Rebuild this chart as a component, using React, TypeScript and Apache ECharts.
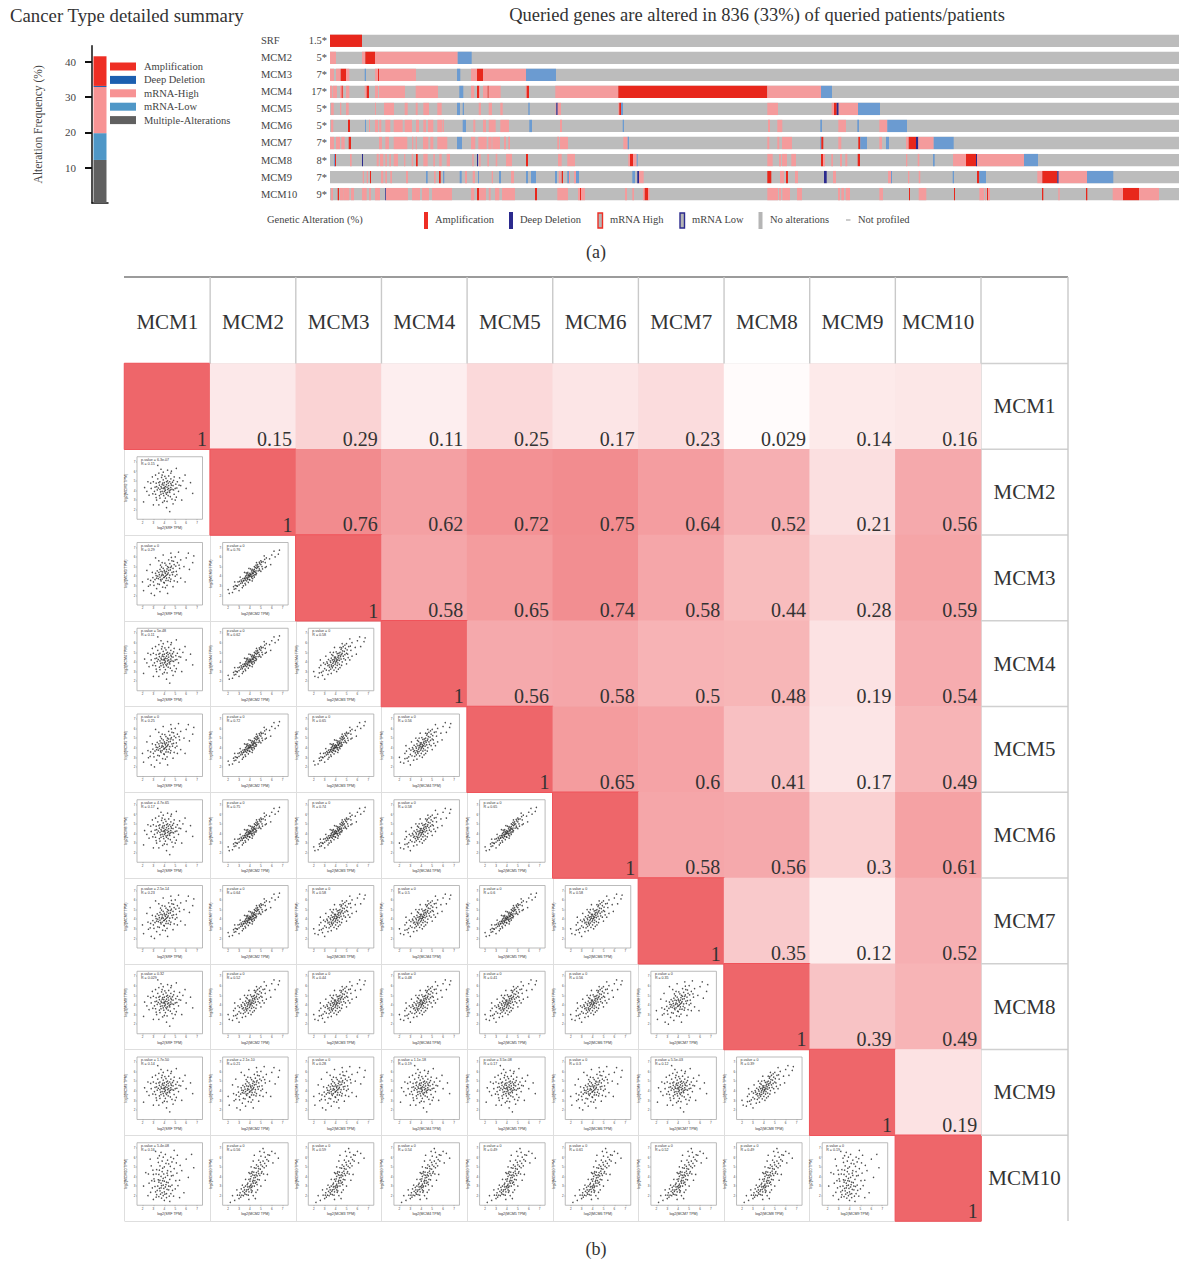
import React, { useEffect, useRef } from "react";
import * as echarts from "echarts";

const SERIF = '"Liberation Serif"';
const SANS = '"Liberation Sans"';

// ---------- stacked bar ----------
const barMultiple = [12.2];
const barLow = [7.6];
const barHigh = [13.1];
const barDeep = [0.3];
const barAmp = [8.4];
const barLegendNames = ["Amplification", "Deep Deletion", "mRNA-High", "mRNA-Low", "Multiple-Alterations"];
const barTicks = [10, 20, 30, 40];

// ---------- oncoprint (columns along the patient track) ----------
const trackGenes = ["SRF", "MCM2", "MCM3", "MCM4", "MCM5", "MCM6", "MCM7", "MCM8", "MCM9", "MCM10"];
const trackPercent = ["1.5*", "5*", "7*", "17*", "5*", "5*", "7*", "8*", "7*", "9*"];
const TRACK_COLUMNS = 849;
const A = 1, H = 2, L = 3, D = 4;
const srfSegs = [[0, 32, A]];
const mcm2Segs = [[0, 6, H], [32, 35.3, H], [35.3, 45, A], [45, 127.7, H], [127.7, 141.7, L]];
const mcm3Segs = [[0, 4, H], [6, 10.7, H], [10.7, 16, A], [16, 19.3, H], [34.7, 36, L], [45, 48, H], [48, 49, A], [49, 86, H], [127, 130.3, L], [141, 147, H], [147, 153, A], [153, 196, H], [196, 226, L]];
const mcm4Segs = [[0, 2, H], [2.7, 7, H], [10, 13.3, H], [11.7, 12.7, A], [16, 19.3, H], [34.7, 36.7, H], [36.7, 39, A], [45, 48, H], [49, 75, H], [85.7, 108, H], [129.3, 133.3, L], [141, 144.3, H], [147, 149, A], [149, 150, H], [153, 157.7, H], [157.7, 158.7, A], [158.7, 170.7, H], [195.7, 196.7, H], [196.7, 199, A], [225.3, 288.3, H], [288.3, 437.3, A], [437.3, 491, H], [491, 502, L]];
const mcm5Segs = [[1, 3.7, H], [10, 11.3, H], [16, 18.7, H], [45, 46, H], [54, 64, H], [74.7, 77.7, H], [85.7, 87.7, H], [93.3, 99, H], [107.3, 111.7, H], [127, 130, L], [132.7, 134, L], [148.7, 151, H], [158.7, 162, H], [170.3, 172.7, H], [198.3, 199.7, L], [225.5, 226.3, H], [226.3, 227.7, D], [227.7, 231, H], [288.3, 289.3, H], [289.3, 291, A], [291, 293, L], [437.3, 448, H], [501.7, 504, H], [504, 506.7, A], [506.7, 508.7, D], [508.7, 528, H], [528, 550, L]];
const mcm6Segs = [[1, 3.3, H], [18, 20, A], [35, 36, L], [39, 40, H], [45, 48, H], [49.3, 51.3, H], [55.3, 60.3, H], [63.7, 72.7, H], [74.7, 82, H], [86, 89, H], [93.3, 96, H], [98, 103.3, H], [107.3, 112, H], [112.5, 114, H], [132.7, 136, L], [143.3, 145.3, H], [153, 156, H], [158.7, 165.7, H], [170.3, 179, H], [199.3, 202, L], [230, 232, H], [292.7, 294, L], [438, 440, H], [447.3, 452.3, H], [490.3, 492, L], [508.3, 516, H], [527.3, 529, L], [549.3, 557.3, H], [557.3, 577, L]];
const mcm7Segs = [[0, 4, H], [6, 10, H], [11.3, 14.7, H], [18.7, 21, A], [49, 52, H], [55.3, 59, H], [63.7, 77.3, H], [82, 83.3, H], [85.7, 87, H], [93, 98.3, H], [100.3, 103.3, H], [107.3, 117.3, H], [127, 132, L], [141, 145.3, H], [148.3, 156.7, H], [158.3, 161.7, H], [162.3, 170, H], [174, 176, H], [178.3, 180, H], [227.3, 229, H], [230, 238, H], [293.3, 297.7, H], [297.7, 299, L], [437.3, 439.3, H], [447.3, 449.3, H], [452, 462, H], [490.3, 491.3, L], [491.3, 493.3, A], [508.3, 511.3, H], [528.3, 530.3, A], [530.3, 537, L], [549.3, 552, H], [556, 559, L], [576, 578.7, H], [578.7, 586, A], [586, 588.3, D], [588.3, 603.7, H], [603.7, 623.7, L]];
const mcm8Segs = [[4, 5, L], [5, 6, A], [20, 21.7, H], [32, 33, D], [46.7, 48.7, H], [50, 53.3, H], [55.3, 57, H], [59.3, 61, H], [63.7, 68, H], [74, 75.3, H], [81.7, 83.3, H], [86, 87.7, A], [93.3, 97.7, H], [103.3, 105, H], [109.3, 111.7, H], [116.7, 120, H], [142.3, 143.7, H], [147, 148, D], [149, 150.7, H], [157.3, 159, H], [165.7, 167.3, H], [176, 182, H], [196, 198, A], [228, 231.7, H], [237.3, 245, H], [298.3, 300, H], [300, 303, A], [303, 306.7, H], [306.7, 307.7, L], [437.3, 442.7, H], [449, 451, H], [452, 457, H], [461.3, 466, H], [491, 493, A], [493, 495, H], [501.3, 503, H], [510, 512, H], [515.3, 517.3, H], [527.7, 530, A], [576, 577.3, H], [587.7, 589.3, H], [603, 604.7, L], [623, 636, H], [636, 646, A], [646, 647, D], [647, 694, H], [694, 708, L]];
const mcm9Segs = [[32.7, 34, H], [36.7, 38, H], [40, 41, A], [51, 53.3, H], [55.3, 57, H], [60.3, 62, H], [76, 78, H], [96, 97.7, L], [104, 105.7, H], [109, 110.7, A], [113, 114.3, L], [129.7, 131.7, L], [135, 137, H], [142.7, 145, H], [148, 149, L], [161.7, 163, H], [169, 171, L], [181, 184, H], [196, 198, L], [201, 206, L], [225, 227, L], [228.7, 230.7, H], [231.7, 233, A], [237.3, 239, L], [239, 240, H], [244, 246, H], [246, 249, L], [302.3, 305, L], [307.3, 309, D], [309, 313.7, H], [437.3, 441.3, A], [450, 454, H], [456, 458, A], [465, 468, H], [494, 496.7, D], [503, 506, H], [558, 561, H], [561, 562, L], [578, 579.3, H], [588.7, 590.3, H], [622.7, 624, L], [647, 649.3, A], [649.3, 656, L], [707.3, 712.3, H], [712.3, 727.3, A], [727.3, 728.7, D], [728.7, 757, H], [757, 783.3, L]];
const mcm10Segs = [[1, 3, H], [7.7, 9, A], [10, 13.3, H], [13.3, 19.3, H], [21, 24, H], [32, 36.7, H], [39, 41, H], [45, 50, H], [55.3, 56, D], [56, 72, H], [72, 78, H], [82, 90, H], [92, 99, H], [102, 122, H], [141, 144.3, H], [147, 149, A], [149, 156, H], [158.7, 160.7, H], [165, 169.3, H], [172, 185, H], [205, 207, A], [227.3, 238, H], [248, 250, H], [250, 251, A], [251, 255, H], [295, 297, H], [302.3, 304, H], [313, 314.7, H], [314.7, 318, A], [318, 319.5, H], [437.3, 448, H], [449, 451, H], [452.3, 460, H], [467, 472, H], [508, 510, H], [511.3, 514, H], [515.7, 520, H], [549.3, 553, H], [579, 580, A], [588.7, 596.3, H], [624, 625, A], [649.3, 654, H], [655, 656, H], [657, 658, A], [658, 660, H], [712, 713.3, A], [728.3, 729.7, H], [756, 757.3, A], [782.7, 793, H], [793, 809, A], [809, 829, H]];
const trackSegments = [srfSegs, mcm2Segs, mcm3Segs, mcm4Segs, mcm5Segs, mcm6Segs, mcm7Segs, mcm8Segs, mcm9Segs, mcm10Segs];
const trackColors = ["#bcbcbc", "#e8271c", "#f49b9c", "#6b9bd1", "#2b2a8e"];

// ---------- correlation matrix ----------
const matrixGenes = ["MCM1", "MCM2", "MCM3", "MCM4", "MCM5", "MCM6", "MCM7", "MCM8", "MCM9", "MCM10"];
const scatterXNames = ["SRF", "MCM2", "MCM3", "MCM4", "MCM5", "MCM6", "MCM7", "MCM8", "MCM9"];
const corrRow1 = [1, 0.15, 0.29, 0.11, 0.25, 0.17, 0.23, 0.029, 0.14, 0.16];
const corrRow2 = [1, 0.76, 0.62, 0.72, 0.75, 0.64, 0.52, 0.21, 0.56];
const corrRow3 = [1, 0.58, 0.65, 0.74, 0.58, 0.44, 0.28, 0.59];
const corrRow4 = [1, 0.56, 0.58, 0.5, 0.48, 0.19, 0.54];
const corrRow5 = [1, 0.65, 0.6, 0.41, 0.17, 0.49];
const corrRow6 = [1, 0.58, 0.56, 0.3, 0.61];
const corrRow7 = [1, 0.35, 0.12, 0.52];
const corrRow8 = [1, 0.39, 0.49];
const corrRow9 = [1, 0.19];
const corrRow10 = [1];
const corrRows = [corrRow1, corrRow2, corrRow3, corrRow4, corrRow5, corrRow6, corrRow7, corrRow8, corrRow9, corrRow10];

const pValuesFirstColumn = ["6.3e-07", "0", "5e-48", "0", "4.7e-65", "2.5e-14", "0.32", "1.7e-50", "5.4e-08"];
const pValuesMcm9Row = ["1.7e-50", "2.1e-10", "0", "1.1e-18", "3.5e-08", "0", "5.5e-03", "0"];
const panelTicks = [2, 3, 4, 5, 6, 7];

// hand-estimated dot clouds (log2 TPM), one per visual shape of the panels
const cloudWeak = [[4.1,4.4],[3.8,4.6],[4.4,4.2],[4.0,3.9],[3.6,4.1],[4.6,4.7],[4.3,5.0],[3.9,5.1],[4.7,4.1],[3.5,4.8],[4.2,3.6],[4.8,4.5],[3.3,4.4],[4.5,3.8],[3.7,3.6],[4.0,4.8],[4.2,4.6],[3.9,4.2],[4.3,4.1],[3.8,3.9],[4.1,4.0],[4.0,4.3],[3.7,4.4],[4.4,4.5],[4.5,4.9],[3.6,4.9],[4.2,4.9],[3.9,3.7],[4.3,3.8],[4.6,4.3],[4.6,5.2],[3.4,5.2],[5.0,4.2],[3.1,3.9],[4.1,3.2],[4.9,3.6],[3.6,3.2],[4.4,5.5],[3.8,5.6],[5.2,4.9],[3.0,4.9],[5.3,3.9],[2.8,4.2],[4.0,2.9],[4.7,3.1],[3.3,3.0],[4.9,5.4],[3.2,5.6],[5.5,4.5],[2.6,3.5],[5.7,5.0],[2.5,4.9],[4.3,6.1],[3.7,6.2],[4.8,2.6],[3.5,2.5],[6.0,4.2],[2.2,4.3],[5.9,5.6],[6.4,4.8],[2.1,2.8],[4.2,2.2],[3.4,6.6],[5.1,6.3],[3.2,3.6],[5.1,3.3],[3.9,5.9],[4.6,5.8],[5.4,5.3],[2.9,5.4],[6.6,3.7],[3.0,2.5],[5.6,3.0],[4.5,1.8],
  [4.05,4.15],[3.95,4.55],[4.25,4.35],[3.75,4.25],[4.35,4.75],[3.55,4.55],[4.55,4.05],[3.85,4.75],[4.15,3.75],[3.65,3.85],[4.45,3.95],[3.45,4.25],[4.15,5.25],[3.95,3.45],[4.65,4.55],[3.25,4.75],[4.75,4.85],[4.35,3.45],[3.75,5.35],[3.55,3.45],[4.85,4.05],[4.05,5.45],[3.35,4.05],[5.05,4.65],[4.55,3.35],[3.15,4.35],[4.85,5.05],[3.25,3.25],[5.15,4.25],[4.25,2.85],[3.85,2.75],[2.95,3.65],[5.35,4.55],[2.75,4.75],[4.65,6.0],[3.5,5.8],[5.0,3.0],[2.4,3.9]];
const cloudMid = [[4.1,4.3],[3.8,4.2],[4.4,4.6],[4.0,3.9],[3.6,3.9],[4.6,4.9],[4.3,5.0],[3.9,4.8],[4.7,4.4],[3.5,4.4],[4.2,3.8],[4.8,4.8],[3.3,3.8],[4.5,4.1],[3.7,3.5],[4.0,4.6],[4.2,4.5],[3.9,4.1],[4.3,4.2],[3.8,3.7],[4.1,4.0],[4.5,5.3],[3.6,4.7],[4.9,5.2],[3.2,4.3],[5.1,4.5],[4.0,3.3],[4.6,3.7],[3.4,3.2],[5.2,5.4],[3.0,3.4],[4.4,5.7],[3.8,5.4],[5.4,4.8],[2.9,4.4],[5.5,5.7],[2.7,3.1],[4.1,2.8],[4.9,3.5],[3.3,2.7],[5.0,6.0],[3.5,5.6],[5.8,5.0],[2.5,3.7],[6.0,5.9],[2.4,4.6],[4.6,6.4],[3.9,6.2],[4.8,2.9],[3.6,2.4],[6.3,4.7],[2.1,2.5],[6.2,6.4],[6.6,5.4],[2.0,3.4],[4.3,2.2],[3.2,5.9],[5.5,3.8],[3.1,2.0],[5.3,6.5],[2.7,5.2],[5.9,3.4],[4.4,4.9],[3.7,4.5],[4.2,4.1],[4.7,5.6],[3.4,4.0],[5.0,4.0],[2.8,2.2],[6.7,6.1],
  [4.05,4.45],[3.95,3.85],[4.25,4.75],[3.75,4.05],[4.35,4.35],[3.55,4.15],[4.55,4.65],[3.85,4.45],[4.15,3.55],[3.65,3.65],[4.45,3.85],[3.45,3.75],[4.15,5.15],[3.95,3.35],[4.65,5.05],[3.25,4.05],[4.75,4.15],[4.35,3.55],[3.75,4.95],[3.55,3.15],[4.85,4.45],[4.05,5.35],[3.35,4.55],[5.05,5.05],[4.55,3.45],[3.15,3.65],[4.85,5.55],[3.05,3.05],[5.15,4.15],[4.25,3.05],[3.85,2.85],[2.95,3.85],[5.35,5.15],[2.75,3.55],[4.65,5.95],[3.65,5.15],[5.2,3.4],[2.55,2.95]];
const cloudStrong = [[4.1,4.3],[3.8,4.0],[4.4,4.7],[4.0,3.9],[3.6,3.7],[4.6,4.9],[4.3,4.9],[3.9,4.5],[4.7,4.6],[3.5,4.1],[4.2,3.9],[4.8,5.1],[3.3,3.6],[4.5,4.3],[3.7,3.4],[4.0,4.5],[4.2,4.5],[3.9,4.1],[4.3,4.4],[3.8,3.6],[4.1,4.1],[4.5,5.3],[3.6,4.4],[4.9,5.4],[3.2,4.0],[5.1,4.8],[4.0,3.4],[4.6,4.0],[3.4,3.1],[5.2,5.6],[3.0,3.3],[4.4,5.5],[3.8,5.0],[5.4,5.2],[2.9,3.9],[5.5,6.0],[2.7,2.9],[4.1,3.0],[4.9,4.2],[3.3,2.7],[5.0,5.9],[3.5,5.0],[5.8,5.5],[2.5,3.4],[6.0,6.2],[2.4,2.4],[4.6,5.9],[3.9,5.5],[5.0,3.8],[3.6,2.8],[6.3,5.6],[2.1,2.5],[6.2,6.6],[6.6,6.1],[2.0,3.0],[4.4,3.4],[3.1,4.6],[5.5,4.6],[3.0,2.2],[5.3,6.4],[2.6,4.2],[5.9,4.8],[4.4,5.0],[3.7,4.2],[4.2,4.2],[4.7,5.6],[3.4,3.7],[5.0,4.9],[2.8,2.6],[6.7,6.5],
  [4.05,4.05],[3.95,4.35],[4.25,4.65],[3.75,3.85],[4.35,4.15],[3.55,3.95],[4.55,4.75],[3.85,4.25],[4.15,3.65],[3.65,3.55],[4.45,4.55],[3.45,3.45],[4.15,4.85],[3.95,3.75],[4.65,5.15],[3.25,3.85],[4.75,4.35],[4.35,3.75],[3.75,4.65],[3.55,3.25],[4.85,4.75],[4.05,5.05],[3.35,4.25],[5.05,5.25],[4.55,3.65],[3.15,3.15],[4.85,5.75],[3.05,3.75],[5.15,4.45],[4.25,3.25],[3.85,3.15],[2.85,3.05],[5.35,5.65],[2.65,3.65],[4.55,5.45],[3.65,4.75],[5.3,4.2],[2.5,2.85]];
const cloudVery = [[4.1,4.2],[3.8,3.9],[4.4,4.5],[4.0,4.0],[3.6,3.6],[4.6,4.8],[4.3,4.6],[3.9,4.2],[4.7,4.9],[3.5,3.8],[4.2,4.0],[4.8,5.0],[3.3,3.3],[4.5,4.4],[3.7,3.5],[4.0,4.3],[4.2,4.4],[3.9,3.9],[4.3,4.3],[3.8,3.7],[4.1,4.0],[4.5,4.9],[3.6,4.0],[4.9,5.3],[3.2,3.6],[5.1,5.0],[4.0,3.6],[4.6,4.3],[3.4,3.0],[5.2,5.5],[3.0,3.1],[4.4,5.0],[3.8,4.4],[5.4,5.4],[2.9,3.4],[5.5,5.9],[2.7,2.7],[4.2,3.5],[4.9,4.6],[3.3,2.8],[5.0,5.6],[3.5,4.4],[5.8,5.8],[2.5,2.9],[6.0,6.2],[2.4,2.3],[4.6,5.4],[3.9,4.8],[5.0,4.5],[3.6,3.1],[6.3,6.0],[2.1,2.2],[6.2,6.6],[6.6,6.3],[2.0,2.6],[4.4,3.9],[3.1,3.9],[5.5,5.0],[3.0,2.5],[5.3,6.1],[2.6,3.4],[5.9,5.2],[4.4,4.7],[3.7,4.1],[4.2,4.7],[4.7,5.2],[3.4,3.5],[5.0,5.2],[2.8,3.0],[6.7,6.7],
  [4.05,4.15],[3.95,4.05],[4.25,4.25],[3.75,3.75],[4.35,4.45],[3.55,3.75],[4.55,4.55],[3.85,4.05],[4.15,3.85],[3.65,3.85],[4.45,4.15],[3.45,3.55],[4.15,4.55],[3.95,3.65],[4.65,5.05],[3.25,3.45],[4.75,4.55],[4.35,4.05],[3.75,4.25],[3.55,3.25],[4.85,4.75],[4.05,4.75],[3.35,3.75],[5.05,5.45],[4.55,4.15],[3.15,3.25],[4.85,5.45],[3.05,3.45],[5.15,4.75],[4.25,3.75],[3.85,3.35],[2.85,2.95],[5.35,5.75],[2.65,3.05],[4.55,5.15],[3.65,4.35],[5.4,4.9],[2.55,2.65]];
const cloudTall = [[3.9,3.1],[4.2,3.4],[3.7,2.8],[4.4,2.6],[4.0,2.4],[3.6,3.6],[4.1,3.9],[3.5,4.2],[4.5,3.7],[3.8,4.5],[4.3,4.6],[3.4,3.0],[4.7,3.1],[3.2,2.4],[4.6,2.2],[3.9,2.0],[4.2,1.8],[3.5,1.9],[4.8,4.1],[3.1,3.5],[4.0,5.0],[3.6,5.1],[4.4,5.3],[3.3,4.7],[4.9,4.8],[3.0,4.2],[5.0,2.7],[2.9,2.8],[3.8,5.6],[4.3,5.7],[4.6,6.0],[3.4,5.9],[5.1,5.4],[2.8,5.1],[5.4,3.6],[2.6,3.3],[4.1,6.3],[3.7,6.5],[5.2,6.2],[2.5,2.0],[5.6,4.6],[5.8,2.3],[2.3,4.4],[6.0,5.8],[6.2,3.9],[4.9,6.7],[3.2,6.6],[2.1,3.0],[5.4,1.8],[3.0,1.6],[4.0,1.5],[4.5,1.4],[3.7,3.3],[4.1,2.9],[3.9,3.8],[4.2,2.2],[3.6,2.5],[4.4,3.0],[3.8,2.3],[4.0,3.5],[4.3,4.1],[3.5,3.4],[3.7,4.0],[4.6,4.5],[3.3,2.1],[6.5,6.3],[6.7,4.9],[4.7,5.5],[3.9,6.0],[2.7,5.8],
  [3.95,2.75],[4.15,3.15],[3.75,3.05],[4.35,3.35],[3.55,2.75],[4.05,2.15],[3.85,3.55],[4.25,2.65],[3.45,3.65],[4.55,2.95],[3.65,2.15],[4.45,1.95],[3.35,2.55],[4.75,2.55],[3.15,2.95],[3.95,4.25],[4.25,4.35],[3.55,4.65],[4.65,4.05],[3.25,4.25],[3.85,4.85],[4.15,5.35],[3.45,5.45],[4.55,5.05],[3.05,3.75],[5.05,3.55],[5.15,4.35],[2.85,3.55],[3.75,1.75],[4.85,1.95],[2.75,2.35],[3.25,1.85],[5.25,3.05],[2.95,4.65],[4.85,5.85],[3.55,6.15],[5.45,5.15],[2.55,4.25]];
const cloudCone = [[3.0,1.7],[3.4,2.0],[3.1,2.3],[3.7,2.1],[3.5,2.6],[3.9,2.4],[3.6,3.0],[4.0,2.8],[4.2,2.5],[3.8,3.3],[4.1,3.2],[4.4,3.0],[3.9,3.7],[4.3,3.6],[4.5,3.3],[4.1,4.0],[4.4,4.1],[4.7,3.7],[4.2,4.5],[4.6,4.4],[4.9,4.1],[4.4,4.9],[4.8,4.8],[5.1,4.5],[4.6,5.2],[5.0,5.2],[5.3,4.9],[4.8,5.7],[5.2,5.6],[5.5,5.1],[5.0,6.1],[5.4,6.0],[5.7,5.6],[5.3,6.5],[5.8,6.2],[6.1,5.4],[4.9,6.6],[6.3,6.4],[6.0,6.6],[6.6,5.9],[2.6,1.5],[2.4,2.0],[2.8,2.6],[3.3,3.1],[3.6,3.7],[3.9,4.4],[4.1,5.0],[4.3,5.6],[4.4,6.2],[5.4,3.6],[5.0,3.0],[4.7,2.6],[4.3,2.0],[3.9,1.6],[4.5,1.7],[5.6,4.2],[3.2,2.7],[3.7,2.6],[4.0,3.5],[4.2,3.0],[4.5,3.9],[4.3,3.3],[3.8,2.9],[4.1,2.6],[4.6,3.4],[4.8,4.3],[3.5,2.3],[4.0,4.3],[2.2,1.3],[5.2,6.9],
  [3.65,2.45],[3.85,2.65],[4.05,3.05],[4.25,3.45],[3.95,2.95],[4.15,2.85],[4.35,3.85],[4.55,4.15],[3.75,3.15],[3.55,2.15],[3.25,2.05],[4.65,4.05],[4.45,3.55],[4.25,4.15],[4.75,4.55],[4.95,4.75],[3.45,2.85],[4.05,3.75],[4.35,4.45],[4.55,4.85],[3.15,1.85],[3.35,2.45],[4.15,2.35],[4.65,3.15],[4.85,3.65],[5.05,4.35],[5.15,5.05],[4.75,5.05],[5.35,5.35],[4.15,4.35],[3.85,2.05],[4.95,5.45],[5.55,5.75],[5.25,4.25],[3.05,2.05],[2.85,2.05],[5.65,6.25],[4.55,2.35]];

function cloudFor(row: number, col: number, r: number) {
  if (row === 9) return col === 0 || col === 8 ? cloudTall : cloudCone;
  if (r < 0.2) return cloudWeak;
  if (r < 0.36) return cloudMid;
  if (r < 0.6) return cloudStrong;
  return cloudVery;
}

function buildOption() {
  const M_LEFT = 124.5, M_TOP = 363.5, CELL_W = 85.65, CELL_H = 85.75, M_RIGHT = 1068, HEAD_TOP = 277;
  const grid: any[] = [
    { left: 92, top: 45.7, width: 16, height: 157.3, outerBoundsMode: "none" },
    { left: 330, top: 32.3, width: TRACK_COLUMNS, height: 170.3, outerBoundsMode: "none" },
    { left: M_LEFT, top: M_TOP, width: CELL_W * 10, height: CELL_H * 10, outerBoundsMode: "none" },
  ];
  const xAxis: any[] = [
    { gridIndex: 0, type: "category", data: ["all"], axisLine: { lineStyle: { color: "#111", width: 1.5 } }, axisTick: { show: false }, axisLabel: { show: false } },
    { gridIndex: 1, type: "value", min: 0, max: TRACK_COLUMNS, show: false },
    {
      gridIndex: 2, type: "category", position: "top", data: matrixGenes,
      axisLine: { show: false }, axisTick: { show: false },
      splitLine: { show: true, interval: 0, lineStyle: { color: "#dedede", width: 1 } },
      axisLabel: { fontFamily: SERIF, fontSize: 21, color: "#333", margin: 41.5, verticalAlign: "middle", interval: 0 },
    },
  ];
  const yAxis: any[] = [
    {
      gridIndex: 0, type: "value", min: 0, max: 44.6,
      axisLine: { show: true, lineStyle: { color: "#111", width: 1.5 } },
      axisTick: { show: true, length: 7, customValues: barTicks, lineStyle: { color: "#111", width: 2 } },
      axisLabel: { customValues: barTicks, margin: 16, fontFamily: SERIF, fontSize: 11, color: "#444" },
      splitLine: { show: false },
      name: "Alteration Frequency (%)", nameLocation: "middle", nameGap: 48,
      nameTextStyle: { fontFamily: SERIF, fontSize: 11.5, color: "#444" },
    },
    {
      gridIndex: 1, type: "category", position: "left", inverse: true, data: trackGenes,
      axisLine: { show: false }, axisTick: { show: false },
      axisLabel: { align: "left", margin: 69, fontFamily: SERIF, fontSize: 10.5, color: "#444", interval: 0 },
    },
    {
      gridIndex: 1, type: "category", position: "left", inverse: true, data: trackPercent,
      axisLine: { show: false }, axisTick: { show: false },
      axisLabel: { align: "right", margin: 3, fontFamily: SERIF, fontSize: 10.5, color: "#444", interval: 0 },
    },
    {
      gridIndex: 2, type: "category", position: "right", inverse: true, data: matrixGenes,
      axisLine: { show: false }, axisTick: { show: false },
      splitLine: { show: true, interval: 0, lineStyle: { color: "#dedede", width: 1 } },
      axisLabel: { fontFamily: SERIF, fontSize: 21, color: "#333", margin: 43.5, align: "center", interval: 0 },
    },
  ];

  const barSeries = (name: string, data: number[], color: string) => ({
    name, type: "bar", stack: "freq", xAxisIndex: 0, yAxisIndex: 0, barWidth: 13, data, itemStyle: { color },
  });
  const trackData: number[][] = [];
  trackGenes.forEach((_, i) => trackData.push([i, 0, TRACK_COLUMNS, 0]));
  trackSegments.forEach((segs, i) => segs.forEach((s) => trackData.push([i, s[0], s[1], s[2]])));

  const heatData: any[] = [];
  corrRows.forEach((vals, row) => {
    vals.forEach((v, k) => {
      const col = row + k;
      const item: any = { value: [col, row, v] };
      if (k === 0) item.itemStyle = { borderColor: "#f0535a", borderWidth: 1 };
      heatData.push(item);
    });
  });

  const series: any[] = [
    barSeries("Multiple-Alterations", barMultiple, "#606060"),
    barSeries("mRNA-Low", barLow, "#4f97c7"),
    barSeries("mRNA-High", barHigh, "#f79394"),
    barSeries("Deep Deletion", barDeep, "#1c5fb0"),
    barSeries("Amplification", barAmp, "#ee2e24"),
    {
      type: "custom", xAxisIndex: 1, yAxisIndex: 1, data: trackData, silent: true,
      encode: { x: [1, 2], y: 0 },
      renderItem: (_: any, api: any) => {
        const s = api.coord([api.value(1), api.value(0)]);
        const e = api.coord([api.value(2), api.value(0)]);
        const h = api.size([0, 1])[1] * 0.72;
        return { type: "rect", shape: { x: s[0], y: s[1] - h / 2, width: e[0] - s[0], height: h }, style: { fill: trackColors[api.value(3)] } };
      },
    },
    {
      type: "heatmap", xAxisIndex: 2, yAxisIndex: 3, data: heatData, silent: true,
      label: {
        show: true, position: "insideBottomRight", distance: 4, offset: [0, 3],
        fontFamily: SERIF, fontSize: 20, color: "#333",
        formatter: (p: any) => String(p.value[2]),
      },
    },
  ];

  const graphic: any[] = [];
  const text = (t: string, x: number, y: number, size: number, fill = "#333", align = "left", family = SERIF) =>
    graphic.push({ type: "text", x, y, z: 50, silent: true, style: { text: t, fontFamily: family, fontSize: size, fill, textAlign: align, textVerticalAlign: "middle" } });
  text("Cancer Type detailed summary", 10, 15, 18.8);
  text("Queried genes are altered in 836 (33%) of queried patients/patients", 757, 15, 18.5, "#333", "center");
  text("(a)", 596, 252, 18, "#333", "center");
  text("(b)", 596, 1249, 18, "#333", "center");
  text("Genetic Alteration (%)", 267, 219.5, 10.5, "#444");
  const lg = (x: number, w: number, fill: string, stroke?: string) =>
    graphic.push({ type: "rect", z: 50, silent: true, shape: { x, y: stroke ? 213 : 212, width: w, height: stroke ? 15 : 17 }, style: { fill, stroke, lineWidth: stroke ? 1.4 : 0 } });
  lg(424, 4, "#ee2e24"); text("Amplification", 435, 219.5, 10.5, "#444");
  lg(509, 4, "#2b2a8e"); text("Deep Deletion", 520, 219.5, 10.5, "#444");
  lg(598, 4.5, "#b5b5b5", "#ee2e24"); text("mRNA High", 610, 219.5, 10.5, "#444");
  lg(680, 4.5, "#b5b5b5", "#2b2a8e"); text("mRNA Low", 692, 219.5, 10.5, "#444");
  lg(758.5, 4, "#b5b5b5"); text("No alterations", 770, 219.5, 10.5, "#444");
  graphic.push({ type: "rect", z: 50, silent: true, shape: { x: 846, y: 219.5, width: 4.5, height: 1 }, style: { fill: "#999" } });
  text("Not profiled", 858, 219.5, 10.5, "#444");

  const ln = (x1: number, y1: number, x2: number, y2: number, color: string, w: number) =>
    graphic.push({ type: "line", z: 40, silent: true, shape: { x1, y1, x2, y2 }, style: { stroke: color, lineWidth: w } });
  ln(124, HEAD_TOP, M_RIGHT, HEAD_TOP, "#9b9b9b", 2);
  for (let i = 1; i <= 10; i++) ln(M_LEFT + CELL_W * i, HEAD_TOP, M_LEFT + CELL_W * i, M_TOP, "#c9c9c9", 1.4);
  for (let i = 0; i <= 9; i++) ln(M_LEFT + CELL_W * 10, M_TOP + CELL_H * i, M_RIGHT, M_TOP + CELL_H * i, "#d0d0d0", 1.4);
  ln(M_RIGHT, HEAD_TOP, M_RIGHT, M_TOP + CELL_H * 10, "#c9c9c9", 1.4);

  // scatter panels, lower triangle
  const panelAxis = (gridIndex: number, name: string, nameGap: number, min: number, max: number) => ({
    gridIndex, type: "value", min, max,
    axisLine: { show: false }, splitLine: { show: false },
    axisTick: { show: true, length: 1, customValues: panelTicks, lineStyle: { color: "#777", width: 0.4 } },
    axisLabel: { fontSize: 3, margin: 1.5, color: "#444", fontFamily: SANS, customValues: panelTicks },
    name, nameLocation: "middle", nameGap,
    nameTextStyle: { fontSize: 3.6, color: "#333", fontFamily: SANS },
  });
  for (let row = 1; row < 10; row++) {
    for (let col = 0; col < row; col++) {
      const r = corrRows[col][row - col];
      const left = M_LEFT + col * CELL_W + 12.5;
      const top = M_TOP + row * CELL_H + 7.5;
      const g = grid.length;
      grid.push({ left, top, width: 65.5, height: 62.5, show: true, backgroundColor: "#fff", borderColor: "#aaa", borderWidth: 0.8, outerBoundsMode: "none" });
      xAxis.push(panelAxis(g, `log2(${scatterXNames[col]} TPM)`, 7, 1.5, 7.5));
      yAxis.push(panelAxis(g, `log2(${matrixGenes[row]} TPM)`, 9.5, 1, 7.5));
      series.push({
        type: "scatter", xAxisIndex: g, yAxisIndex: yAxis.length - 1, silent: true, z: 5,
        symbolSize: 1.5, data: cloudFor(row, col, r), itemStyle: { color: "#222" },
      });
      const p = col === 0 ? pValuesFirstColumn[row - 1] : row === 8 ? pValuesMcm9Row[col] : "0";
      text(`p-value = ${p}`, left + 4, top + 3, 3.6, "#333", "left", SANS);
      text(`R = ${r}`, left + 4, top + 7, 3.6, "#333", "left", SANS);
    }
  }

  return {
    animation: false,
    backgroundColor: "#fff",
    tooltip: { show: false },
    grid, xAxis, yAxis, series, graphic,
    legend: {
      left: 110, top: 61, padding: 0, orient: "vertical", itemWidth: 26, itemHeight: 8, itemGap: 2.4, icon: "rect",
      selectedMode: false, data: barLegendNames,
      textStyle: { fontFamily: SERIF, fontSize: 10.5, color: "#444", padding: [0, 0, 0, 3] },
    },
    visualMap: {
      show: false, type: "continuous", min: 0, max: 1, seriesIndex: 6, dimension: 2,
      inRange: { color: ["#ffffff", "#ee666a"] },
    },
  };
}

export default function App() {
  const ref = useRef<HTMLDivElement>(null);
  useEffect(() => {
    document.body.style.margin = "0";
    const chart = echarts.init(ref.current!, undefined, { renderer: "svg" });
    chart.setOption(buildOption() as any);
    return () => chart.dispose();
  }, []);
  return <div ref={ref} style={{ position: "absolute", left: 0, top: 0, width: 1179, height: 1261 }} />;
}
